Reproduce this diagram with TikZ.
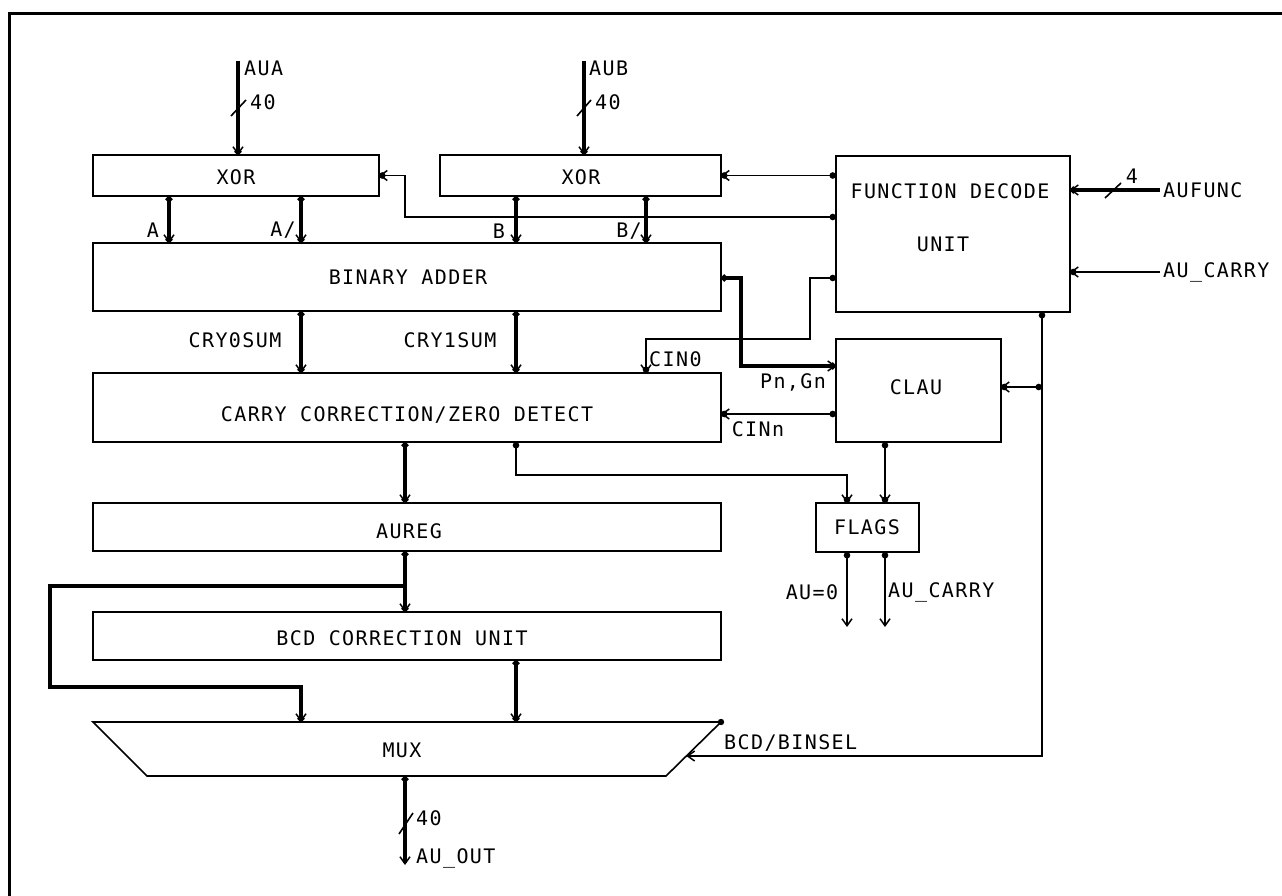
\documentclass[tikz,border=0pt]{standalone}
\usepackage{fontspec}
\setmonofont{DejaVu Sans Mono}[LetterSpace=7]
\usetikzlibrary{arrows.meta,calc}
\begin{document}
\begin{tikzpicture}[x=1pt,y=-1pt,
  box/.style={draw,line width=1.6pt,rectangle,inner sep=0pt,outer sep=0pt},
  lbl/.style={font=\ttfamily\fontsize{20}{20}\selectfont,inner sep=0pt},
  thinw/.style={line width=1.6pt},
  medw/.style={line width=2.4pt},
  busw/.style={line width=3.4pt},
  pinarr/.style={{Circle[length=6.5pt]}-{Straight Barb[length=7pt,width=10pt,line width=1.5pt,sep=-6.5pt]Circle[length=6.5pt]}},
  pinartwo/.style={{Circle[length=6.5pt]}-{Straight Barb[length=7pt,width=10pt,line width=1.5pt]}},
  arrdot/.style={-{Straight Barb[length=7pt,width=10pt,line width=1.5pt,sep=-6.5pt]Circle[length=6.5pt]}},
]
\useasboundingbox (0,0) rectangle (1282,896);
% frame
\draw[line width=3pt] (1282,14) -- (9,14) -- (9,896);

% boxes
\node[box,minimum width=286pt,minimum height=41pt] (xor1) at (236,175.5) {};
\node[box,minimum width=281pt,minimum height=41pt] (xor2) at (580.5,175.5) {};
\node[box,minimum width=234pt,minimum height=156pt] (fdu) at (953,234) {};
\node[box,minimum width=628pt,minimum height=68pt] (ba) at (407,277) {};
\node[box,minimum width=628pt,minimum height=69pt] (ccz) at (407,407.5) {};
\node[box,minimum width=165pt,minimum height=103pt] (clau) at (918.5,390.5) {};
\node[box,minimum width=628pt,minimum height=48pt] (aureg) at (407,527) {};
\node[box,minimum width=103pt,minimum height=49pt] (flags) at (867.5,527.5) {};
\node[box,minimum width=628pt,minimum height=48pt] (bcd) at (407,636) {};
\node[inner sep=0pt,outer sep=0pt,minimum width=628pt,minimum height=54pt] (mux) at (407,749) {};
\coordinate (muxbr) at ($(mux.south east)+(-55,0)$);
\coordinate (muxbl) at ($(mux.south west)+(54,0)$);
\draw[line width=1.6pt] (mux.north west) -- (mux.north east) -- (muxbr) -- (muxbl) -- cycle;
\fill (mux.north east) circle (3.2pt);
\coordinate (muxsel) at ($(mux.north east)!0.63!(muxbr)$);

% box texts
\node[lbl] (xor1t) at (236,177) {XOR};
\node[lbl] (xor2t) at (581,177) {XOR};
\node[lbl] (fdut1) at (950,191) {FUNCTION DECODE};
\node[lbl] (fdut2) at (943,244) {UNIT};
\node[lbl] (bat) at (408,277) {BINARY ADDER};
\node[lbl] (cczt) at (407,415) {CARRY CORRECTION/ZERO DETECT};
\node[lbl] (claut) at (916,387) {CLAU};
\node[lbl] (auregt) at (409,531) {AUREG};
\node[lbl] (flagst) at (867,527) {FLAGS};
\node[lbl] (bcdt) at (402,638) {BCD CORRECTION UNIT};
\node[lbl] (muxt) at (402,750) {MUX};

% lanes
\coordinate (xA) at (169,0);
\coordinate (xAn) at (301,0);
\coordinate (xB) at (516,0);
\coordinate (xBn) at (646,0);
\coordinate (xM) at (405,0);
\coordinate (xZ) at (847,0);
\coordinate (xC) at (885,0);
\coordinate (xF) at (1042,0);

% inputs AUA / AUB
\coordinate (inA) at (238,61);
\coordinate (inB) at (584,61);
\draw[busw,arrdot] (inA) -- (xor1.north -| inA);
\draw[busw,arrdot] (inB) -- (xor2.north -| inB);
\draw[thinw] (231,116) -- (246,100);
\draw[thinw] (577,116) -- (591,100);
\node[lbl,anchor=west] (lAUA) at (244,68) {AUA};
\node[lbl,anchor=west] (lAUAn) at (250,102) {40};
\node[lbl,anchor=west] (lAUB) at (589,68) {AUB};
\node[lbl,anchor=west] (lAUBn) at (595,102) {40};

% XOR outputs
\draw[busw,pinarr] (xor1.south -| xA) -- (ba.north -| xA);
\draw[busw,pinarr] (xor1.south -| xAn) -- (ba.north -| xAn);
\draw[busw,pinarr] (xor2.south -| xB) -- (ba.north -| xB);
\draw[busw,pinarr] (xor2.south -| xBn) -- (ba.north -| xBn);
\node[lbl] (lA) at (153,230) {A};
\node[lbl] (lAn) at (283,230) {A/};
\node[lbl] (lB) at (499,231) {B};
\node[lbl] (lBn) at (629,231) {B/};

% function decode controls
\draw[thinw,pinarr] (fdu.west |- xor2.east) -- (xor2.east);
\coordinate (k1) at (405,217);
\draw[thinw,pinarr] (fdu.west |- k1) -- (k1) |- (xor1.east);
\coordinate (k2) at (810,278);
\coordinate (k3) at (646,339);
\draw[thinw,pinarr] (fdu.west |- k2) -- (k2) |- (k3) -- (ccz.north -| k3);
\node[lbl,anchor=west] (lCIN0) at (649,359) {CIN0};

% Pn,Gn and CINn
\coordinate (k4) at (741,278);
\coordinate (k5) at (741,366);
\draw[busw,pinarr] (ba.east |- k4) -- (k4) -- (k5) -- (clau.west |- k5);
\node[lbl] (lPG) at (793,382) {Pn,Gn};
\coordinate (k6) at (0,414);
\draw[medw,pinarr] (clau.west |- k6) -- (ccz.east |- k6);
\node[lbl] (lCINn) at (758,429) {CINn};

% sums
\draw[busw,pinarr] (ba.south -| xAn) -- (ccz.north -| xAn);
\draw[busw,pinarr] (ba.south -| xB) -- (ccz.north -| xB);
\node[lbl] (lC0) at (235,340) {CRY0SUM};
\node[lbl] (lC1) at (450,340) {CRY1SUM};

% to AUREG, FLAGS
\draw[busw,pinarr] (ccz.south -| xM) -- (aureg.north -| xM);
\coordinate (k7) at (516,475);
\draw[thinw,pinarr] (ccz.south -| xB) -- (k7) -| (flags.north -| xZ);
\draw[thinw,pinarr] (clau.south -| xC) -- (flags.north -| xC);
\coordinate (o1) at (847,627);
\coordinate (o2) at (885,627);
\draw[thinw,pinartwo] (flags.south -| xZ) -- (o1);
\draw[thinw,pinartwo] (flags.south -| xC) -- (o2);
\node[lbl] (lAU0) at (812,592) {AU=0};
\node[lbl,anchor=west] (lAUC2) at (888,592) {AU\_CARRY};

% select line from function decode
\coordinate (j1) at (1042,387);
\coordinate (k8) at (1042,756);
\draw[thinw,pinartwo] (fdu.south -| xF) -- (j1) -- (k8) -- (muxsel);
\draw[thinw,pinarr] (j1) -- (clau.east |- j1);
\node[lbl,anchor=west] (lSEL) at (724,743) {BCD/BINSEL};

% AUREG -> BCD, loop to MUX
\draw[busw,pinarr] (aureg.south -| xM) -- (bcd.north -| xM);
\coordinate (k9) at (405,586);
\coordinate (k10) at (50,586);
\coordinate (k11) at (50,687);
\draw[busw,arrdot] (k9) -- (k10) -- (k11) -| (mux.north -| xAn);
\draw[busw,pinarr] (bcd.south -| xB) -- (mux.north -| xB);

% MUX output
\coordinate (out) at (405,865);
\draw[busw,pinartwo] (mux.south -| xM) -- (out);
\draw[thinw] (399,834) -- (413,813);
\node[lbl,anchor=west] (lOUTn) at (416,818) {40};
\node[lbl,anchor=west] (lOUT) at (416,858) {AU\_OUT};

% AUFUNC, AU_CARRY inputs
\coordinate (fin) at (1160,190);
\coordinate (cin) at (1160,272);
\draw[busw,arrdot] (fin) -- (fdu.east |- fin);
\draw[thinw] (1105,198) -- (1121,183);
\node[lbl] (lF4) at (1132,176) {4};
\node[lbl,anchor=west] (lAUF) at (1163,190) {AUFUNC};
\draw[thinw,arrdot] (cin) -- (fdu.east |- cin);
\node[lbl,anchor=west] (lAUC1) at (1163,272) {AU\_CARRY};
\end{tikzpicture}
\end{document}
